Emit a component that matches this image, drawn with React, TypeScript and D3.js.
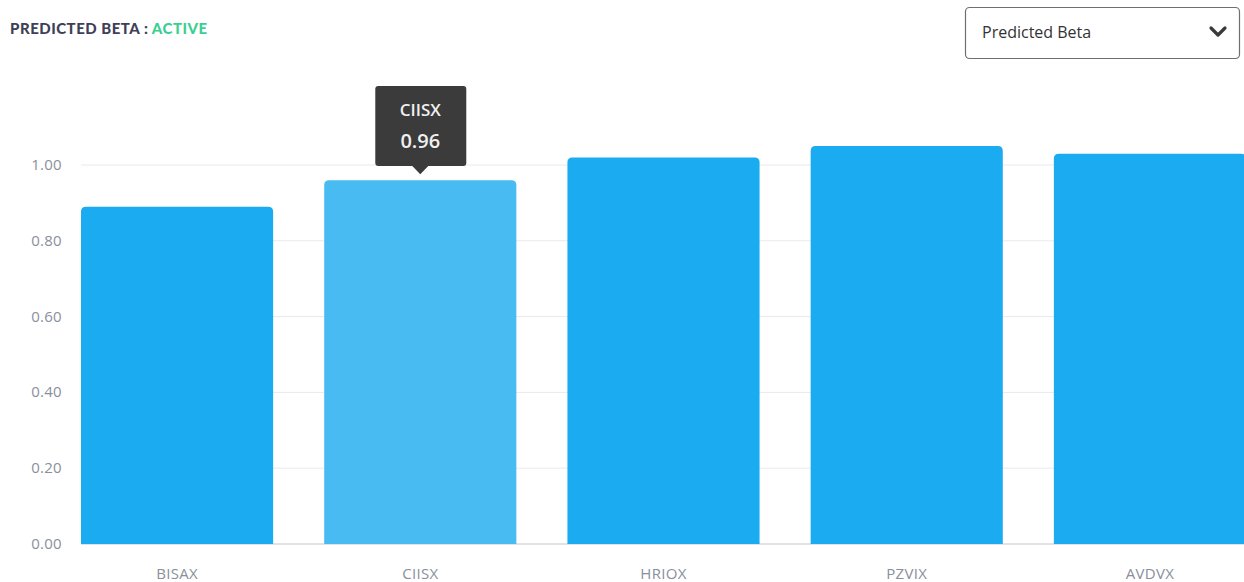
import React from "react";
import * as d3 from "d3";

const categories = ["BISAX", "CIISX", "HRIOX", "PZVIX", "AVDVX"];
const values = [0.89, 0.96, 1.02, 1.05, 1.03];
const yTicks = [0, 0.2, 0.4, 0.6, 0.8, 1.0];
const highlighted = "CIISX";

const W = 1244;
const H = 582;

export default function App() {
  const x = d3.scaleBand<string>().domain(categories).range([81, 1246]).paddingInner(0.21).paddingOuter(0);
  const y = d3.scaleLinear().domain([0, 1]).range([544, 165]);
  const r = 5;
  const barPath = (x0: number, y0: number, w: number, y1: number) =>
    `M${x0},${y1}V${y0 + r}Q${x0},${y0} ${x0 + r},${y0}H${x0 + w - r}Q${x0 + w},${y0} ${x0 + w},${y0 + r}V${y1}Z`;
  const hi = categories.indexOf(highlighted);
  const hx = (x(highlighted) as number) + x.bandwidth() / 2;
  const hy = y(values[hi]);
  const font = "'Open Sans', sans-serif";
  return (
    <div style={{ position: "absolute", left: 0, top: 0, width: W, height: H, overflow: "hidden", background: "#fff" }}>
      <svg width={W} height={H} style={{ display: "block" }}>
        <text x={10} y={34} fontFamily="Lato, sans-serif" fontWeight={900} fontSize={15} fill="#3f3f57" letterSpacing={0.5}>
          PREDICTED BETA : <tspan fill="#3ccf91">ACTIVE</tspan>
        </text>
        <rect x={965.5} y={7.5} width={274} height={51} rx={4} fill="#fff" stroke="#6f6f6f" strokeWidth={1.2} />
        <text x={982} y={38} fontFamily={font} fontSize={16} fill="#333">Predicted Beta</text>
        <path d="M1211,28 L1218,35 L1225,28" fill="none" stroke="#3a3a3a" strokeWidth={3.2} strokeLinecap="round" strokeLinejoin="round" />
        {yTicks.map((t) => (
          <g key={t}>
            <line x1={81} x2={W} y1={y(t)} y2={y(t)} stroke={t === 0 ? "#e3e3e3" : "#e9e9e9"} strokeWidth={t === 0 ? 2 : 1} />
            <text x={62} y={y(t) + 5} textAnchor="end" fontFamily={font} fontSize={15} fill="#8a8f9c" letterSpacing={0.3}>{d3.format(".2f")(t)}</text>
          </g>
        ))}
        {categories.map((c, i) => {
          const x0 = x(c) as number;
          return (
            <g key={c}>
              <path d={barPath(x0, y(values[i]), x.bandwidth(), y(0))} fill={c === highlighted ? "#48bbf2" : "#1aabf0"} />
              <text x={x0 + x.bandwidth() / 2} y={579} textAnchor="middle" fontFamily={font} fontSize={15} fill="#8a8f9c" letterSpacing={0.3}>{c}</text>
            </g>
          );
        })}
        <g>
          <rect x={hx - 45} y={86} width={91} height={80} rx={3} fill="#3b3b3b" />
          <path d={`M${hx - 8},166 L${hx},${hy - 6} L${hx + 8},166Z`} fill="#3b3b3b" />
          <text x={hx} y={116} textAnchor="middle" fontFamily={font} fontSize={17} fontWeight={600} fill="#f0f0f0">{highlighted}</text>
          <text x={hx} y={148} textAnchor="middle" fontFamily={font} fontSize={20} fontWeight={600} fill="#f0f0f0">{d3.format(".2f")(values[hi])}</text>
        </g>
      </svg>
    </div>
  );
}
